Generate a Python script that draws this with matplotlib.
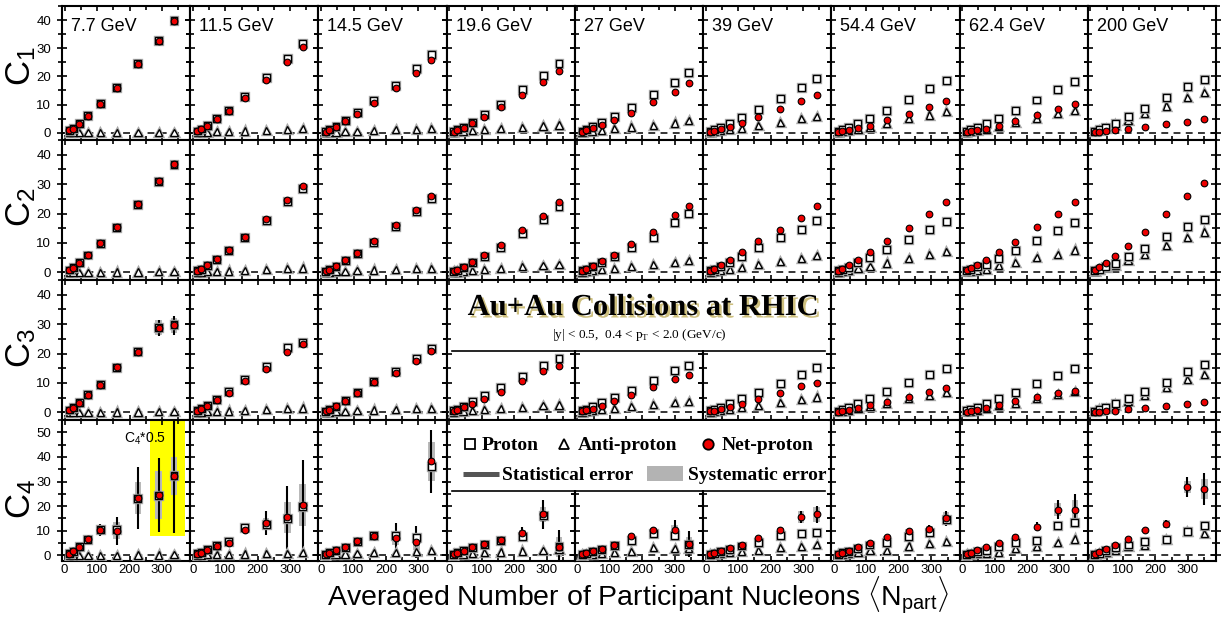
"""Cumulants C1-C4 of proton, anti-proton and net-proton vs <Npart>, nine BES energies."""
import numpy as np
import matplotlib; matplotlib.use("Agg")
import matplotlib.pyplot as plt
from matplotlib.patches import Rectangle
from matplotlib.lines import Line2D
from matplotlib.ticker import MultipleLocator
import matplotlib.patheffects as pe

plt.rcParams["font.family"] = ["Liberation Sans", "DejaVu Sans"]
plt.rcParams["mathtext.fontset"] = "custom"
plt.rcParams["mathtext.rm"] = "Liberation Sans"
plt.rcParams["mathtext.it"] = "Liberation Sans:italic"
plt.rcParams["mathtext.bf"] = "Liberation Sans:bold"

ENERGIES = ["7.7 GeV", "11.5 GeV", "14.5 GeV", "19.6 GeV", "27 GeV", "39 GeV", "54.4 GeV", "62.4 GeV", "200 GeV"]
NPART = [[14, 26, 45, 72, 110, 160, 226, 290, 337],
         [14, 26, 45, 73, 110, 160, 226, 291, 338],
         [14, 26, 46, 74, 111, 162, 230, 294, 340],
         [14, 25, 44, 71, 108, 158, 225, 289, 338],
         [14, 27, 47, 75, 114, 166, 234, 299, 343],
         [14, 26, 46, 74, 111, 162, 230, 294, 342],
         [14, 26, 46, 74, 111, 162, 230, 294, 346],
         [14, 26, 46, 74, 113, 164, 230, 294, 347],
         [14, 27, 48, 77, 116, 167, 234, 299, 351]]

# ---- C1
C1_P = [[0.8, 1.5, 3.3, 6.1, 10.2, 16.1, 24.6, 32.7, 39.8],
        [0.6, 1.3, 2.6, 5.0, 8.0, 12.8, 19.6, 26.3, 31.8],
        [0.5, 1.0, 2.2, 4.2, 7.2, 11.3, 16.8, 22.7, 27.7],
        [0.5, 1.1, 2.0, 3.7, 6.6, 10.0, 15.4, 20.4, 24.6],
        [0.6, 1.2, 2.2, 3.6, 5.7, 9.1, 13.6, 17.9, 21.5],
        [0.5, 1.1, 1.9, 3.4, 5.4, 8.2, 12.2, 16.0, 19.2],
        [0.5, 1.0, 1.8, 3.1, 5.0, 7.9, 11.9, 15.8, 18.7],
        [0.5, 1.1, 1.9, 3.2, 5.2, 7.9, 11.6, 15.2, 18.1],
        [0.5, 1.1, 2.0, 3.4, 5.6, 8.6, 12.5, 16.4, 19.0]]
C1_PBAR = [[0.01, 0.02, 0.03, 0.05, 0.08, 0.1, 0.14, 0.17, 0.2],
           [0.05, 0.1, 0.2, 0.3, 0.45, 0.6, 0.9, 1.2, 1.5],
           [0.1, 0.15, 0.25, 0.4, 0.55, 0.8, 1.0, 1.2, 1.4],
           [0.15, 0.3, 0.5, 0.7, 1.0, 1.4, 1.8, 2.4, 2.7],
           [0.15, 0.3, 0.5, 0.8, 1.4, 2.0, 2.6, 3.4, 4.2],
           [0.2, 0.4, 0.7, 1.0, 1.6, 2.6, 3.6, 4.9, 5.8],
           [0.2, 0.4, 0.7, 1.2, 1.9, 3.2, 5.0, 6.3, 7.6],
           [0.2, 0.4, 0.8, 1.3, 2.1, 3.6, 5.2, 6.7, 8.0],
           [0.3, 0.8, 1.5, 2.7, 4.4, 6.7, 9.5, 12.4, 14.3]]
C1_NET = [[0.8, 1.4, 3.2, 6.0, 10.1, 16.0, 24.4, 32.5, 39.6],
          [0.6, 1.2, 2.4, 4.7, 7.7, 12.2, 18.6, 25.1, 30.3],
          [0.4, 0.8, 2.0, 4.2, 6.7, 10.6, 16.0, 21.1, 25.8],
          [0.2, 0.8, 1.8, 3.4, 5.6, 9.0, 13.5, 18.0, 21.9],
          [0.4, 0.9, 1.5, 2.7, 4.6, 7.0, 10.9, 14.4, 17.5],
          [0.3, 0.7, 1.2, 2.0, 3.4, 5.6, 8.5, 11.2, 13.5],
          [0.2, 0.5, 0.9, 1.5, 2.5, 4.4, 6.8, 9.2, 11.2],
          [0.2, 0.5, 0.8, 1.4, 2.5, 4.2, 6.3, 8.4, 10.1],
          [0.2, 0.35, 0.6, 0.9, 1.3, 2.0, 3.0, 3.9, 4.7]]

# ---- C2
C2_P = [[0.8, 1.5, 3.3, 5.9, 9.9, 15.4, 23.2, 30.9, 36.8],
        [0.5, 1.1, 2.4, 4.4, 7.4, 11.7, 17.7, 24.0, 28.6],
        [0.4, 0.9, 1.9, 3.9, 6.5, 10.3, 15.6, 20.8, 25.0],
        [0.3, 0.7, 1.6, 3.2, 5.4, 8.6, 13.2, 17.9, 22.3],
        [0.5, 1.0, 1.9, 3.4, 5.5, 8.5, 11.7, 17.0, 20.0],
        [0.5, 1.0, 1.9, 3.4, 5.4, 8.3, 11.7, 14.7, 17.5],
        [0.5, 1.0, 1.8, 3.2, 5.2, 7.9, 11.1, 14.6, 17.4],
        [0.5, 1.0, 1.9, 2.8, 4.8, 7.3, 10.9, 14.1, 17.0],
        [0.5, 1.0, 1.9, 3.1, 5.3, 8.2, 12.1, 15.6, 17.9]]
C2_PBAR = [[0.01, 0.02, 0.03, 0.05, 0.08, 0.1, 0.14, 0.17, 0.2],
           [0.05, 0.1, 0.2, 0.3, 0.45, 0.6, 0.9, 1.2, 1.5],
           [0.1, 0.15, 0.25, 0.4, 0.55, 0.8, 1.0, 1.2, 1.4],
           [0.1, 0.15, 0.3, 0.6, 1.0, 1.4, 2.0, 2.4, 2.8],
           [0.1, 0.25, 0.5, 0.9, 1.4, 2.0, 2.6, 3.3, 4.0],
           [0.15, 0.3, 0.6, 1.1, 1.7, 2.6, 3.6, 4.8, 5.6],
           [0.15, 0.35, 0.7, 1.2, 2.0, 3.2, 4.8, 6.1, 7.2],
           [0.2, 0.4, 0.7, 1.1, 2.2, 3.4, 5.1, 6.1, 7.6],
           [0.4, 0.9, 1.6, 2.5, 4.2, 6.2, 9.0, 11.9, 13.7]]
C2_NET = [[0.8, 1.5, 3.3, 5.9, 9.9, 15.4, 23.3, 31.0, 36.9],
          [0.5, 1.1, 2.5, 4.5, 7.6, 11.9, 18.1, 24.5, 29.3],
          [0.4, 0.9, 2.0, 4.1, 6.7, 10.6, 16.0, 21.3, 25.9],
          [0.3, 0.8, 1.8, 3.5, 5.9, 9.4, 14.3, 19.3, 23.9],
          [0.5, 1.1, 2.0, 3.7, 6.0, 9.5, 13.7, 19.5, 22.6],
          [0.6, 1.3, 2.4, 4.3, 6.9, 10.5, 14.5, 18.5, 22.5],
          [0.6, 1.3, 2.5, 4.3, 7.0, 10.7, 15.2, 19.9, 23.8],
          [0.7, 1.5, 2.5, 4.2, 6.8, 10.4, 15.3, 19.9, 23.8],
          [0.8, 1.8, 3.3, 5.5, 8.8, 13.6, 19.9, 25.9, 30.3]]

# ---- C3
C3_P = [[0.8, 1.5, 3.3, 6.0, 9.4, 15.4, 20.7, 29.0, 29.8],
        [0.6, 1.2, 2.4, 4.5, 7.0, 11.2, 15.6, 22.0, 23.9],
        [0.4, 0.9, 2.0, 4.0, 6.8, 10.6, 14.0, 18.2, 21.8],
        [0.5, 1.1, 2.1, 3.6, 5.6, 8.5, 12.2, 16.0, 18.4],
        [0.5, 1.1, 2.0, 3.4, 5.1, 7.3, 10.8, 14.1, 16.0],
        [0.5, 1.0, 1.8, 3.1, 4.7, 6.9, 9.9, 13.0, 15.3],
        [0.4, 0.9, 1.7, 3.0, 4.6, 7.0, 10.0, 12.9, 14.8],
        [0.5, 1.0, 1.8, 3.0, 4.6, 6.9, 9.8, 12.6, 14.8],
        [0.4, 0.9, 1.7, 2.9, 4.6, 7.0, 10.2, 13.9, 16.2]]
C3_PBAR = [[0.01, 0.02, 0.03, 0.05, 0.08, 0.1, 0.14, 0.17, 0.2],
           [0.05, 0.1, 0.2, 0.3, 0.45, 0.6, 0.9, 1.2, 1.5],
           [0.1, 0.15, 0.25, 0.4, 0.55, 0.8, 1.0, 1.2, 1.4],
           [0.1, 0.2, 0.4, 0.7, 1.0, 1.4, 1.7, 2.2, 2.5],
           [0.1, 0.3, 0.6, 1.0, 1.4, 2.0, 2.6, 3.4, 3.7],
           [0.1, 0.3, 0.6, 1.0, 1.6, 2.2, 3.4, 4.5, 5.2],
           [0.2, 0.4, 0.8, 1.4, 2.1, 3.2, 4.6, 5.6, 6.7],
           [0.2, 0.4, 0.8, 1.4, 2.2, 3.2, 4.6, 6.0, 7.0],
           [0.4, 0.8, 1.4, 2.5, 3.8, 5.8, 8.4, 11.2, 13.0]]
C3_NET = [[0.8, 1.4, 3.2, 5.9, 9.3, 15.3, 20.5, 28.8, 29.6],
          [0.5, 1.1, 2.2, 4.2, 6.5, 10.6, 14.9, 20.5, 23.1],
          [0.4, 0.9, 2.0, 4.0, 6.6, 10.2, 13.5, 17.5, 21.0],
          [0.4, 0.9, 1.7, 2.8, 4.7, 7.0, 10.7, 14.1, 15.6],
          [0.3, 0.7, 1.2, 2.2, 3.7, 5.9, 8.7, 11.2, 12.6],
          [0.3, 0.6, 1.0, 1.8, 2.8, 4.5, 6.6, 8.9, 9.9],
          [0.2, 0.5, 0.9, 1.5, 2.4, 3.5, 5.2, 6.9, 8.3],
          [0.2, 0.5, 0.9, 1.5, 2.4, 3.7, 5.3, 6.6, 7.2],
          [0.1, 0.2, 0.4, 0.6, 1.0, 1.6, 2.3, 3.0, 3.6]]
C3_NET_STAT = [[0, 0, 0.1, 0.2, 0.3, 0.7, 1.5, 2.7, 3.2],
               [0, 0, 0.1, 0.1, 0.2, 0.3, 0.5, 0.8, 1.0],
               [0, 0, 0, 0.1, 0.2, 0.3, 0.4, 0.6, 0.8],
               [0, 0, 0, 0.1, 0.1, 0.2, 0.3, 0.4, 0.5],
               [0, 0, 0, 0.1, 0.1, 0.2, 0.3, 0.4, 0.5],
               [0, 0, 0, 0.1, 0.1, 0.2, 0.2, 0.3, 0.4],
               [0, 0, 0, 0, 0.1, 0.1, 0.2, 0.3, 0.3],
               [0, 0, 0, 0, 0.1, 0.1, 0.2, 0.3, 0.4],
               [0, 0, 0, 0, 0.1, 0.1, 0.1, 0.2, 0.2]]
C3_NET_SYS = [[0, 0, 0.1, 0.2, 0.4, 0.8, 1.2, 2.5, 2.5],
              [0, 0, 0.1, 0.1, 0.2, 0.3, 0.5, 0.8, 0.9],
              [0, 0, 0, 0.1, 0.1, 0.2, 0.3, 0.5, 0.6],
              [0, 0, 0, 0.1, 0.1, 0.2, 0.3, 0.4, 0.5],
              [0, 0, 0, 0.1, 0.1, 0.2, 0.3, 0.4, 0.4],
              [0, 0, 0, 0, 0.1, 0.2, 0.2, 0.3, 0.3],
              [0, 0, 0, 0, 0.1, 0.1, 0.2, 0.2, 0.3],
              [0, 0, 0, 0, 0.1, 0.1, 0.2, 0.2, 0.3],
              [0, 0, 0, 0, 0.1, 0.1, 0.1, 0.1, 0.2]]

# ---- C4
C4_P = [[0.6, 1.7, 3.5, 6.6, 10.4, 10.5, 23.0, 24.5, 32.5],
        [0.6, 1.2, 2.4, 4.0, 5.7, 11.3, 12.5, 15.0, 20.0],
        [0.4, 1.0, 2.0, 3.3, 5.8, 8.2, 8.2, 7.3, 36.0],
        [0.4, 1.0, 1.8, 3.0, 4.5, 6.2, 7.6, 16.0, 3.5],
        [0.4, 0.9, 1.6, 2.5, 4.0, 5.9, 8.9, 8.2, 4.5],
        [0.4, 0.9, 1.5, 2.5, 3.8, 5.3, 8.2, 8.9, 9.3],
        [0.4, 1.0, 1.7, 2.8, 4.2, 5.1, 7.5, 9.3, 14.5],
        [0.4, 0.9, 1.7, 1.9, 3.5, 5.3, 6.2, 12.1, 13.5],
        [0.4, 0.9, 1.8, 3.0, 4.2, 5.5, 6.6, 9.8, 12.3]]
C4_PBAR = [[0.0, 0.0, 0.0, 0.0, 0.0, 0.0, 0.1, 0.1, 0.2],
           [0.05, 0.1, 0.2, 0.3, 0.4, 0.5, 0.7, 0.9, 1.0],
           [0.1, 0.2, 0.3, 0.5, 0.9, 1.1, 1.3, 1.5, 1.9],
           [0.1, 0.2, 0.4, 0.7, 1.0, 1.4, 1.8, 2.1, 2.5],
           [0.1, 0.3, 0.5, 0.9, 1.2, 1.7, 3.1, 2.7, 3.0],
           [0.1, 0.3, 0.6, 1.0, 1.6, 2.1, 3.1, 3.5, 4.5],
           [0.1, 0.3, 0.6, 1.1, 1.9, 2.1, 3.8, 4.9, 5.5],
           [0.1, 0.3, 0.6, 0.9, 1.4, 2.7, 3.5, 5.1, 6.6],
           [0.3, 0.6, 1.2, 2.2, 3.6, 4.2, 6.5, 9.8, 8.9]]
C4_NET = [[0.5, 1.7, 3.5, 6.6, 10.4, 10.0, 23.3, 24.4, 32.2],
          [0.5, 1.1, 2.1, 3.8, 5.1, 10.5, 13.0, 15.4, 20.4],
          [0.4, 1.1, 2.1, 3.2, 5.8, 7.9, 7.0, 5.5, 38.2],
          [0.4, 1.1, 1.9, 3.2, 4.7, 6.2, 9.2, 16.6, 3.5],
          [0.4, 0.9, 1.6, 2.6, 4.4, 7.8, 10.2, 10.2, 4.6],
          [0.5, 1.1, 1.8, 2.8, 4.4, 7.1, 10.5, 15.6, 16.6],
          [0.4, 1.1, 1.9, 3.2, 4.9, 7.3, 9.8, 10.6, 15.0],
          [0.5, 1.1, 2.0, 3.2, 4.9, 7.3, 11.6, 18.6, 18.6],
          [0.5, 1.2, 2.4, 4.2, 6.5, 10.2, 12.7, 27.8, 27.0]]
C4_NET_STAT = [[0.3, 0.4, 0.6, 0.9, 2.5, 5.7, 12.5, 15.0, 23.0],
               [0.3, 0.4, 0.5, 0.8, 1.0, 1.8, 4.9, 12.7, 18.4],
               [0.2, 0.3, 0.5, 0.8, 1.0, 1.5, 6.0, 6.5, 12.8],
               [0.2, 0.3, 0.4, 0.6, 0.9, 1.2, 2.5, 5.9, 6.6],
               [0.2, 0.2, 0.3, 0.5, 0.7, 1.0, 1.5, 4.0, 5.4],
               [0.1, 0.2, 0.3, 0.4, 0.6, 0.8, 1.2, 2.5, 3.4],
               [0.1, 0.2, 0.3, 0.4, 0.6, 0.8, 1.2, 1.8, 3.0],
               [0.2, 0.3, 0.4, 0.6, 0.8, 1.2, 1.8, 4.0, 6.3],
               [0.1, 0.2, 0.3, 0.4, 0.6, 0.8, 1.5, 4.0, 6.5]]
C4_NET_SYS = [[0.1, 0.2, 0.3, 0.5, 1.5, 3.5, 6.4, 9.7, 7.7],
              [0.1, 0.2, 0.3, 0.4, 0.6, 1.0, 2.0, 6.4, 8.6],
              [0.1, 0.1, 0.2, 0.3, 0.5, 0.8, 3.0, 3.5, 7.8],
              [0.1, 0.1, 0.2, 0.3, 0.4, 0.6, 1.0, 3.0, 4.0],
              [0.1, 0.1, 0.2, 0.3, 0.4, 0.6, 1.0, 2.0, 3.0],
              [0.1, 0.1, 0.2, 0.3, 0.4, 0.5, 0.8, 2.5, 3.0],
              [0.1, 0.1, 0.2, 0.3, 0.4, 0.5, 0.8, 1.5, 2.5],
              [0.1, 0.1, 0.2, 0.3, 0.4, 0.6, 1.0, 2.5, 4.0],
              [0.1, 0.1, 0.2, 0.3, 0.4, 0.6, 1.5, 2.5, 4.0]]

ROWS = [(C1_P, C1_PBAR, C1_NET, None, None),
        (C2_P, C2_PBAR, C2_NET, None, None),
        (C3_P, C3_PBAR, C3_NET, C3_NET_STAT, C3_NET_SYS),
        (C4_P, C4_PBAR, C4_NET, C4_NET_STAT, C4_NET_SYS)]
YLABELS = ["C$_1$", "C$_2$", "C$_3$", "C$_4$"]
YLIMS = [(-2.6, 45), (-2.6, 45), (-2.6, 45), (-2.3, 55)]

W, H = 1226, 624
fx = lambda px: px / W
fy = lambda py: 1 - py / H
SYSC = "#b9b9b9"
halo = [pe.Stroke(linewidth=2.4, foreground="#a8a8a8"), pe.Normal()]

fig = plt.figure(figsize=(W / 100, H / 100), dpi=100)
gs = fig.add_gridspec(4, 9, left=fx(62), right=fx(1216), top=fy(6), bottom=fy(561),
                      hspace=0, wspace=0, height_ratios=[134, 140, 140, 141])

for r, (P, PB, NT, ST, SY) in enumerate(ROWS):
    for c in range(9):
        ax = fig.add_subplot(gs[r, c])
        x = np.array(NPART[c], float)
        ax.axhline(0, color="black", lw=1.1, dashes=(4.5, 3.5), zorder=1)
        if SY is not None:
            for xi, yi, s in zip(x, NT[c], SY[c]):
                if s > 0:
                    ax.add_patch(Rectangle((xi - 10, yi - s), 20, 2 * s, fc=SYSC, ec="none", zorder=2))
        if ST is not None:
            ax.errorbar(x, NT[c], yerr=ST[c], fmt="none", ecolor="black", elinewidth=1.5, capsize=0, zorder=3)
        ax.plot(x, PB[c], ls="none", marker="^", ms=5.2, mfc="white", mec="black", mew=1.0,
                zorder=4, path_effects=halo)
        ax.plot(x, P[c], ls="none", marker="s", ms=5.0, mfc="white", mec="black", mew=1.0,
                zorder=5, path_effects=halo)
        ax.plot(x, NT[c], ls="none", marker="o", ms=4.8, mfc="#ee0000", mec="black", mew=0.8, zorder=6)
        ax.set_xlim(-8, 387)
        ax.set_ylim(*YLIMS[r])
        ax.xaxis.set_major_locator(MultipleLocator(100))
        ax.xaxis.set_minor_locator(MultipleLocator(50))
        ax.yaxis.set_major_locator(MultipleLocator(10))
        ax.yaxis.set_minor_locator(MultipleLocator(5))
        ax.tick_params(axis="y", which="both", direction="inout", left=True, right=True, width=1.2,
                       labelsize=9.5, pad=4)
        ax.tick_params(axis="y", which="major", length=7.5)
        ax.tick_params(axis="y", which="minor", length=5.5)
        ax.tick_params(axis="x", which="both", direction="in", top=True, bottom=True, width=1.2,
                       labelsize=9.5, pad=2)
        ax.tick_params(axis="x", which="major", length=3.8)
        ax.tick_params(axis="x", which="minor", length=2.8)
        for s in ax.spines.values():
            s.set_linewidth(1.5)
        if c > 0:
            ax.tick_params(labelleft=False)
        if r < 3:
            ax.tick_params(labelbottom=False)
        if r == 0:
            ax.text(0.07, 0.845, ENERGIES[c], transform=ax.transAxes, va="center", ha="left", fontsize=13)
        if r == 3 and c == 0:
            ax.add_patch(Rectangle((262, 7.8), 109, 50, fc="#ffff00", ec="none", zorder=0.5))
            ax.text(182, 47.5, "C$_4$*0.5", fontsize=10, va="center", ha="left", zorder=7)

for lab, yc in zip(YLABELS, [66, 207, 348, 499]):
    fig.text(fx(21), fy(yc), lab, rotation=90, fontsize=25, ha="center", va="center")

fig.text(fx(638), fy(606), r"Averaged Number of Participant Nucleons $\langle$N$_{\mathregular{part}}$$\rangle$",
         fontsize=20.5, ha="center", va="baseline")

# title box over row 3, columns 4-6
fig.add_artist(Rectangle((fx(451), fy(350)), fx(828) - fx(451), fy(283) - fy(350),
                         transform=fig.transFigure, fc="white", ec="none", zorder=5))
fig.add_artist(Line2D([fx(452), fx(825)], [fy(351), fy(351)], transform=fig.transFigure,
                      color="black", lw=1.2, zorder=6))
t = fig.text(fx(643), fy(315), "Au+Au Collisions at RHIC", family="Liberation Serif", weight="bold",
             fontsize=22, ha="center", va="baseline", zorder=7)
t.set_path_effects([pe.withSimplePatchShadow(offset=(1.8, -1.8), shadow_rgbFace="#cdbf7e", alpha=1.0)])
fig.text(fx(639), fy(338), r"|y| < 0.5,  0.4 < p$_{\mathregular{T}}$ < 2.0 (GeV/c)", family="Liberation Serif",
         fontsize=9.5, ha="center", va="baseline", zorder=7)

# legend box over row 4, columns 4-6
fig.add_artist(Rectangle((fx(451), fy(490)), fx(828) - fx(451), fy(421) - fy(490),
                         transform=fig.transFigure, fc="white", ec="none", zorder=5))
fig.add_artist(Line2D([fx(452), fx(825)], [fy(491), fy(491)], transform=fig.transFigure,
                      color="black", lw=1.2, zorder=6))
leg_font = dict(family="Liberation Serif", weight="bold", fontsize=14, va="baseline", ha="left", zorder=7)
for mk, xm, kw in [("s", 470, dict(mfc="white", mec="black")),
                   ("^", 564, dict(mfc="white", mec="black")),
                   ("o", 708, dict(mfc="#ee0000", mec="black"))]:
    fig.add_artist(Line2D([fx(xm)], [fy(444)], transform=fig.transFigure, ls="none", marker=mk,
                          ms=7.5, mew=1.3, zorder=7, **kw))
fig.text(fx(482), fy(450), "Proton", **leg_font)
fig.text(fx(578), fy(450), "Anti-proton", **leg_font)
fig.text(fx(722), fy(450), "Net-proton", **leg_font)
fig.add_artist(Line2D([fx(463), fx(499)], [fy(474), fy(474)], transform=fig.transFigure,
                      color="#555555", lw=3.6, solid_capstyle="butt", zorder=7))
fig.add_artist(Rectangle((fx(647), fy(481)), fx(683) - fx(647), fy(466) - fy(481),
                         transform=fig.transFigure, fc="#b3b3b3", ec="none", zorder=7))
fig.text(fx(502), fy(480), "Statistical error", **leg_font)
fig.text(fx(688), fy(480), "Systematic error", **leg_font)

fig.savefig("out.png", dpi=100, facecolor="white")
